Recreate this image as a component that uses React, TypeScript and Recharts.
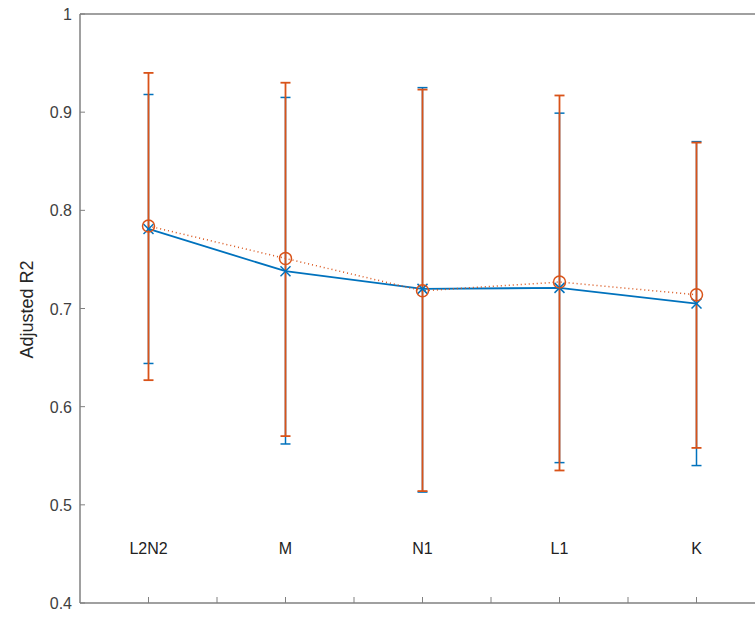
import React from "react";
import { LineChart, Line, XAxis, YAxis, ErrorBar, ReferenceLine } from "recharts";

const categories = ["L2N2", "M", "N1", "L1", "K"];
const blueMean = [0.781, 0.738, 0.72, 0.721, 0.705];
const blueLow = [0.644, 0.562, 0.513, 0.543, 0.54];
const blueHigh = [0.918, 0.915, 0.925, 0.899, 0.87];
const orangeMean = [0.784, 0.751, 0.718, 0.727, 0.714];
const orangeLow = [0.627, 0.57, 0.514, 0.535, 0.558];
const orangeHigh = [0.94, 0.93, 0.923, 0.917, 0.869];
const yTicks = [0.4, 0.5, 0.6, 0.7, 0.8, 0.9, 1];
const xTicks = [1, 1.5, 2, 2.5, 3, 3.5, 4, 4.5, 5];

const data = categories.map((c, i) => ({
  x: i + 1,
  name: c,
  blue: blueMean[i],
  orange: orangeMean[i],
  blueErr: [blueMean[i] - blueLow[i], blueHigh[i] - blueMean[i]],
  orangeErr: [orangeMean[i] - orangeLow[i], orangeHigh[i] - orangeMean[i]],
}));

const BLUE = "#0072BD";
const ORANGE = "#D95319";
const AXIS = "#808080";
const FONT = "Liberation Sans, Arial, sans-serif";

const YTick = (p: any) => (
  <g>
    <line x1={p.x} x2={p.x + 5} y1={p.y} y2={p.y} stroke={AXIS} strokeWidth={1} />
    <text x={p.x - 8} y={p.y} dy={6} textAnchor="end" fontSize={16} fill="#404040" fontFamily={FONT}>
      {p.payload.value}
    </text>
  </g>
);

const XTick = (p: any) => {
  const v = p.payload.value;
  const idx = Number.isInteger(v) ? v - 1 : -1;
  return (
    <g>
      <line x1={p.x} x2={p.x} y1={603} y2={597} stroke={AXIS} strokeWidth={1} />
      {idx >= 0 && (
        <text x={p.x} y={554} textAnchor="middle" fontSize={16} fill="#222" fontFamily={FONT}>
          {categories[idx]}
        </text>
      )}
    </g>
  );
};

const XDot = (p: any) => {
  const { cx, cy } = p;
  const s = 5;
  return (
    <g stroke={BLUE} strokeWidth={1.5}>
      <line x1={cx - s} y1={cy - s} x2={cx + s} y2={cy + s} />
      <line x1={cx - s} y1={cy + s} x2={cx + s} y2={cy - s} />
    </g>
  );
};

const ODot = (p: any) => (
  <circle cx={p.cx} cy={p.cy} r={6} fill="none" stroke={ORANGE} strokeWidth={1.5} />
);

export default function App() {
  return (
    <div style={{ position: "absolute", left: 0, top: 0, width: 755, height: 617, overflow: "hidden", background: "#fff" }}>
      <LineChart width={755} height={617} data={data} margin={{ top: 14, right: 0, left: 0, bottom: 13 }}>
        <XAxis
          dataKey="x"
          type="number"
          domain={[0.5, 5.427]}
          allowDataOverflow
          ticks={xTicks}
          tick={<XTick />}
          tickLine={false}
          height={1}
          stroke={AXIS}
          strokeWidth={1.5}
          interval={0}
        />
        <YAxis
          type="number"
          domain={[0.4, 1]}
          ticks={yTicks}
          tick={<YTick />}
          tickLine={false}
          tickSize={0}
          tickMargin={0}
          width={80}
          stroke={AXIS}
          strokeWidth={1.5}
          interval={0}
          label={{ value: "Adjusted R2", angle: -90, position: "insideLeft", dx: 22, dy: 50, fontSize: 18, fill: "#262626", fontFamily: FONT }}
        />
        <ReferenceLine y={1} stroke={AXIS} strokeWidth={1.5} />
        <Line dataKey="blue" stroke={BLUE} strokeWidth={1.8} dot={<XDot />} isAnimationActive={false}>
          <ErrorBar dataKey="blueErr" stroke={BLUE} strokeWidth={1.5} width={5} />
        </Line>
        <Line dataKey="orange" stroke={ORANGE} strokeWidth={1.5} strokeDasharray="1 3" dot={<ODot />} isAnimationActive={false}>
          <ErrorBar dataKey="orangeErr" stroke={ORANGE} strokeWidth={1.8} width={5} />
        </Line>
      </LineChart>
    </div>
  );
}
